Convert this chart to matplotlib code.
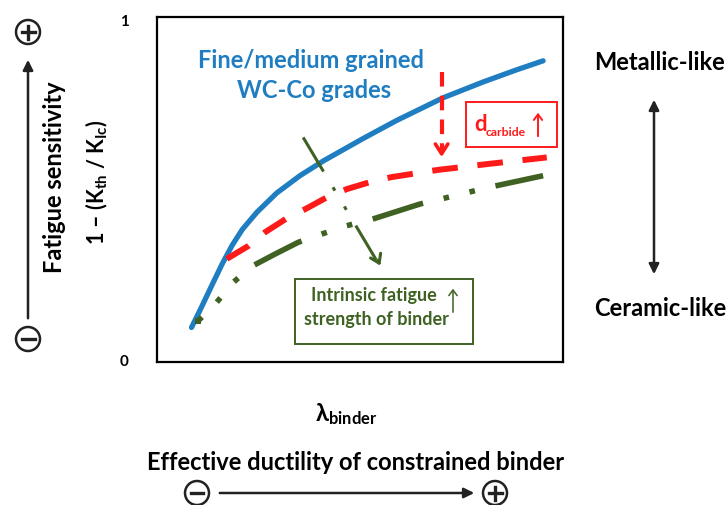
import matplotlib
matplotlib.use("Agg")
import matplotlib.pyplot as plt
from matplotlib.patches import FancyArrowPatch, Rectangle, Ellipse
from matplotlib.lines import Line2D

plt.rcParams["font.family"] = ["Lato", "DejaVu Sans"]
plt.rcParams["font.weight"] = "bold"
plt.rcParams["mathtext.fontset"] = "custom"
plt.rcParams["mathtext.rm"] = "Lato:bold"
plt.rcParams["mathtext.it"] = "Lato:bold"
plt.rcParams["mathtext.bf"] = "Lato:bold"

W, H = 726, 506
BLUE, RED, GREEN = "#1f7dc1", "#ff1a1a", "#3f6222"
DARK = "#222222"

# curves (x: lambda_binder, y: 1 - Kth/KIc)
blue_x = [0.085, 0.110, 0.135, 0.160, 0.185, 0.210, 0.246, 0.295, 0.352,
          0.410, 0.508, 0.590, 0.705, 0.804, 0.886, 0.951]
blue_y = [0.100, 0.160, 0.222, 0.283, 0.338, 0.384, 0.434, 0.490, 0.540,
          0.583, 0.648, 0.700, 0.766, 0.812, 0.847, 0.873]
red_x = [0.172, 0.226, 0.266, 0.319, 0.365, 0.418, 0.467, 0.529, 0.578,
         0.644, 0.693, 0.759, 0.808, 0.869, 0.960]
red_y = [0.299, 0.337, 0.376, 0.416, 0.443, 0.477, 0.501, 0.523, 0.536,
         0.548, 0.557, 0.566, 0.573, 0.581, 0.593]
green_x = [0.102, 0.147, 0.188, 0.233, 0.291, 0.348, 0.406, 0.467, 0.525,
           0.648, 0.705, 0.767, 0.824, 0.951]
green_y = [0.120, 0.173, 0.231, 0.277, 0.313, 0.347, 0.371, 0.395, 0.412,
           0.458, 0.474, 0.492, 0.508, 0.540]
# shift arrows: (start, tip)
binder_shift = [(0.360, 0.651), (0.553, 0.272)]
carbide_shift = [(0.701, 0.840), (0.701, 0.586)]


def fx(px):
    return px / W


def fy(py):
    return 1 - py / H


def sign_circle(cx, cy, plus):
    fig.add_artist(Ellipse((fx(cx), fy(cy)), 24 / W, 24 / H,
                           transform=fig.transFigure, fill=False,
                           ec=DARK, lw=1.8))
    fig.add_artist(Line2D([fx(cx - 6.5), fx(cx + 6.5)], [fy(cy), fy(cy)],
                          transform=fig.transFigure, color=DARK, lw=2.4))
    if plus:
        fig.add_artist(Line2D([fx(cx), fx(cx)], [fy(cy - 6.5), fy(cy + 6.5)],
                              transform=fig.transFigure, color=DARK, lw=2.4))


def up_arrow(x, y0, y1, color, lw):
    fig.add_artist(FancyArrowPatch((fx(x), fy(y0)), (fx(x), fy(y1)),
                                   transform=fig.transFigure,
                                   arrowstyle="->,head_length=4,head_width=3",
                                   color=color, lw=lw))


fig = plt.figure(figsize=(W / 100, H / 100), dpi=100)
ax = fig.add_axes([fx(157), fy(363), (563 - 157) / W, (363 - 18) / H])
ax.set_xlim(0, 1)
ax.set_ylim(0, 1)
ax.set_xticks([])
ax.set_yticks([])
for s in ax.spines.values():
    s.set_linewidth(1.6)
    s.set_color("black")

ax.plot(blue_x, blue_y, color=BLUE, lw=3.8, solid_capstyle="round",
        solid_joinstyle="round")
ax.plot(red_x, red_y, color=RED, lw=4.3, linestyle=(0, (4.3, 3.3)),
        dash_capstyle="butt")
ax.plot(green_x, green_y, color=GREEN, lw=4.0,
        linestyle=(8.6, (9.5, 3.8, 1.0, 3.8, 1.0, 3.8)),
        dash_capstyle="butt")
ax.plot(green_x[:1], green_y[:1], "s", ms=4.5, color=GREEN, mew=0)

# dash-dot-dot arrow for the binder strength shift
(x0, y0), (x1, y1) = binder_shift
ax.plot([x0, x1 - 0.01], [y0, y1 + 0.018], color=GREEN, lw=2.2,
        linestyle=(0, (13, 6, 1.3, 6, 1.3, 6)))
ax.annotate("", xy=(x1, y1), xytext=(x1 - 0.012, y1 + 0.03),
            arrowprops=dict(arrowstyle="->,head_length=0.6,head_width=0.4",
                            color=GREEN, lw=2.2))
# red dashed arrow for the carbide size shift
(x0, y0), (x1, y1) = carbide_shift
ax.plot([x0, x1], [y0, y1 + 0.02], color=RED, lw=3.0,
        linestyle=(0, (3.5, 2.2)))
ax.annotate("", xy=(x1, y1), xytext=(x1, y1 + 0.04),
            arrowprops=dict(arrowstyle="->,head_length=0.7,head_width=0.45",
                            color=RED, lw=2.6))

fig.text(fx(311), fy(60), "Fine/medium grained", color=BLUE, fontsize=17,
         ha="center", va="center")
fig.text(fx(314), fy(90), "WC-Co grades", color=BLUE, fontsize=17,
         ha="center", va="center")

# red box
fig.add_artist(Rectangle((fx(466), fy(148)), (557 - 466) / W, (148 - 103) / H,
                         transform=fig.transFigure, fill=False,
                         ec=RED, lw=1.4))
fig.text(fx(474), fy(131), "d", color=RED, fontsize=16, ha="left",
         va="baseline")
fig.text(fx(485.5), fy(136), "carbide", color=RED, fontsize=8.8, ha="left",
         va="baseline")
up_arrow(538, 140, 111, RED, 1.4)

# green box
fig.add_artist(Rectangle((fx(295), fy(345)), (473 - 295) / W, (345 - 280) / H,
                         transform=fig.transFigure, fill=False,
                         ec=GREEN, lw=1.4))
fig.text(fx(374), fy(296), "Intrinsic fatigue", color=GREEN, fontsize=13,
         ha="center", va="center")
fig.text(fx(376), fy(319), "strength of binder", color=GREEN, fontsize=13,
         ha="center", va="center")
up_arrow(453, 316, 287, GREEN, 1.1)

# axis tick labels
fig.text(fx(124), fy(22), "1", fontsize=11, ha="center", va="center")
fig.text(fx(124), fy(362), "0", fontsize=11, ha="center", va="center")

# left annotations
fig.text(fx(55), fy(177), "Fatigue sensitivity", rotation=90, fontsize=17,
         ha="center", va="center")
fig.text(fx(97), fy(182), r"1 – (K$_{\mathregular{th}}$ / K$_{\mathregular{Ic}}$)",
         rotation=90, fontsize=15.5, ha="center", va="center")
fig.add_artist(FancyArrowPatch((fx(28), fy(322)), (fx(28), fy(58)),
                               transform=fig.transFigure,
                               arrowstyle="-|>,head_length=6,head_width=3",
                               color=DARK, lw=1.8))
sign_circle(28, 33, True)
sign_circle(28, 340, False)

# right annotations
fig.text(fx(660), fy(62), "Metallic-like", fontsize=17, ha="center",
         va="center")
fig.text(fx(660), fy(309), "Ceramic-like", fontsize=17, ha="center",
         va="center")
fig.add_artist(FancyArrowPatch((fx(654), fy(278)), (fx(654), fy(98)),
                               transform=fig.transFigure,
                               arrowstyle="<|-|>,head_length=6,head_width=3",
                               color=DARK, lw=1.8))

# bottom annotations
fig.text(fx(346), fy(414), r"$\lambda$$_{\mathregular{binder}}$",
         fontsize=17, ha="center", va="center")
fig.text(fx(356), fy(463), "Effective ductility of constrained binder",
         fontsize=17, ha="center", va="center")
fig.add_artist(FancyArrowPatch((fx(217), fy(494)), (fx(477), fy(494)),
                               transform=fig.transFigure,
                               arrowstyle="-|>,head_length=6,head_width=3",
                               color=DARK, lw=1.8))
sign_circle(197, 494, False)
sign_circle(495, 494, True)

fig.savefig("out.png", dpi=100)
